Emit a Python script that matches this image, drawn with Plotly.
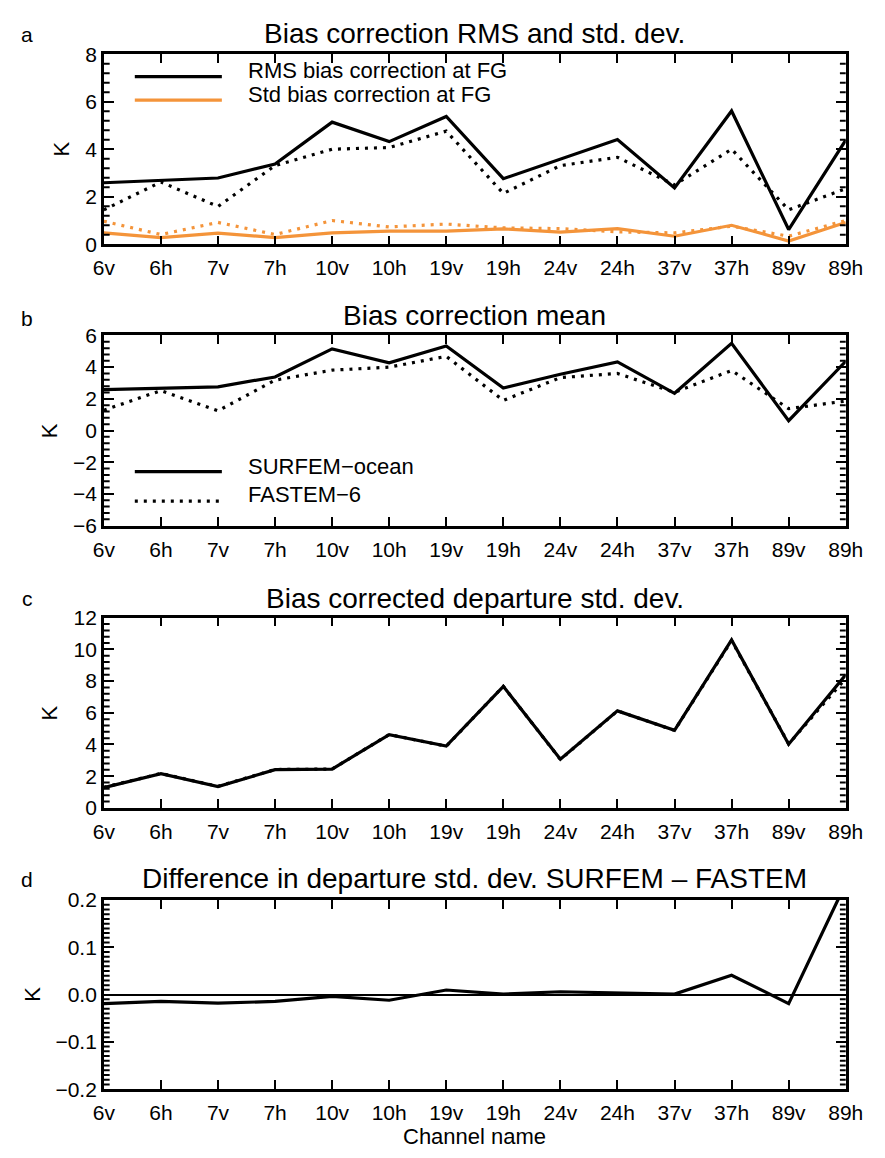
import plotly.graph_objects as go

# ---------------- data ----------------
channels = ["6v", "6h", "7v", "7h", "10v", "10h", "19v", "19h",
            "24v", "24h", "37v", "37h", "89v", "89h"]

# panel a: RMS and std of bias correction at FG
rms_surfem = [2.59, 2.69, 2.79, 3.38, 5.14, 4.32, 5.38, 2.76, 3.59, 4.41, 2.37, 5.61, 0.62, 4.38]
rms_fastem = [1.45, 2.62, 1.59, 3.31, 4.00, 4.07, 4.76, 2.14, 3.31, 3.66, 2.50, 4.00, 1.45, 2.34]
std_surfem = [0.48, 0.28, 0.47, 0.28, 0.48, 0.55, 0.55, 0.65, 0.51, 0.66, 0.34, 0.80, 0.14, 0.92]
std_fastem = [0.97, 0.41, 0.92, 0.41, 1.00, 0.73, 0.85, 0.69, 0.66, 0.52, 0.48, 0.76, 0.34, 1.00]

# panel b: bias correction mean
mean_surfem = [2.58, 2.68, 2.76, 3.38, 5.15, 4.27, 5.34, 2.68, 3.55, 4.33, 2.35, 5.50, 0.62, 4.37]
mean_fastem = [1.28, 2.52, 1.24, 3.18, 3.81, 4.00, 4.68, 1.90, 3.34, 3.60, 2.41, 3.79, 1.38, 1.86]

# panel c: bias corrected departure std. dev.
dep_surfem = [1.28, 2.16, 1.34, 2.41, 2.45, 4.62, 3.90, 7.67, 3.07, 6.12, 4.89, 10.60, 4.02, 8.40]
dep_fastem = [1.30, 2.17, 1.36, 2.42, 2.45, 4.63, 3.89, 7.67, 3.06, 6.12, 4.89, 10.56, 4.04, 8.17]

# panel d: difference SURFEM - FASTEM
dep_diff = [-0.019, -0.0145, -0.018, -0.0145, -0.004, -0.012, 0.0097, 0.001,
            0.006, 0.004, 0.001, 0.041, -0.019, 0.235]

titles = ["Bias correction RMS and std. dev.",
          "Bias correction mean",
          "Bias corrected departure std. dev.",
          "Difference in departure std. dev. SURFEM \u2013 FASTEM"]
letters = ["a", "b", "c", "d"]

# ---------------- layout helpers ----------------
W, H = 885, 1158
FONT = "Liberation Sans, Arial, Helvetica, sans-serif"
ORANGE = "#F4943A"
DOT = "3px,6px"


def fx(x):
    return x / W


def fy(y):
    return 1 - y / H


XL, XR = 96, 863
boxes = [(43, 237), (330, 524), (618, 812), (906, 1099)]

fig = go.Figure()


def add(i, y, color, dash, width=3.2):
    ax = "" if i == 0 else str(i + 1)
    fig.add_trace(go.Scatter(x=channels, y=y, mode="lines",
                             line=dict(color=color, width=width, dash=dash),
                             xaxis="x" + ax, yaxis="y" + ax, showlegend=False,
                             hoverinfo="skip"))


add(0, rms_fastem, "black", DOT)
add(0, rms_surfem, "black", "solid")
add(0, std_fastem, ORANGE, DOT)
add(0, std_surfem, ORANGE, "solid")
add(1, mean_fastem, "black", DOT)
add(1, mean_surfem, "black", "solid")
add(2, dep_fastem, "black", DOT)
add(2, dep_surfem, "black", "solid")
add(3, dep_diff, "black", "solid")

# axis specs: (low, high, major step, minor subdivisions)
yspecs = [
    dict(lo=0, hi=8, dtick=2, nsub=5, fmt=None),
    dict(lo=-6, hi=6, dtick=2, nsub=5, fmt=None),
    dict(lo=0, hi=12, dtick=2, nsub=5, fmt=None),
    dict(lo=-0.2, hi=0.2, dtick=0.1, nsub=10, fmt=".1f"),
]

layout = dict(width=W, height=H, margin=dict(l=0, r=0, t=0, b=0),
              plot_bgcolor="white", paper_bgcolor="white",
              font=dict(family=FONT, color="black", size=21),
              showlegend=False)

TF = dict(size=21, family=FONT, color="black")
shapes = []
MINLEN = 6 / (XR - XL)
for i, (top, bot) in enumerate(boxes):
    ax = "" if i == 0 else str(i + 1)
    spec = yspecs[i]
    layout["xaxis" + ax] = dict(
        domain=[fx(XL), fx(XR)], anchor="y" + ax,
        type="category", categoryorder="array", categoryarray=channels,
        range=[0, len(channels) - 1],
        showline=True, linecolor="black", linewidth=2.5, mirror="ticks",
        ticks="inside", ticklen=9, tickwidth=2, tickcolor="black",
        showgrid=False, zeroline=False, ticklabelstandoff=3,
        tickfont=TF)
    ydict = dict(
        domain=[fy(bot), fy(top)], anchor="x" + ax,
        range=[spec["lo"], spec["hi"]], tickmode="linear", dtick=spec["dtick"], tick0=0,
        showline=True, linecolor="black", linewidth=2.5, mirror="ticks",
        ticks="inside", ticklen=10, tickwidth=2, tickcolor="black",
        showgrid=False, zeroline=(i == 3), zerolinecolor="black", zerolinewidth=2,
        tickfont=TF)
    if spec["fmt"]:
        ydict["tickformat"] = spec["fmt"]
    layout["yaxis" + ax] = ydict

    # minor ticks on both vertical sides
    step = spec["dtick"] / spec["nsub"]
    nsteps = int(round((spec["hi"] - spec["lo"]) / step))
    for k in range(nsteps + 1):
        v = spec["lo"] + k * step
        if abs(v / spec["dtick"] - round(v / spec["dtick"])) < 1e-6:
            continue
        for x0, x1 in ((0, MINLEN), (1 - MINLEN, 1)):
            shapes.append(dict(type="line", xref="x" + ax + " domain", yref="y" + ax,
                               x0=x0, x1=x1, y0=v, y1=v, layer="above",
                               line=dict(color="black", width=2)))

fig.update_layout(**layout)

ann = []
cx = fx((XL + XR) / 2)
title_y = [22, 310, 598, 884]
letter_y = [23, 313, 598, 885]
k_x = [52, 40, 40, 22]
for i, (top, bot) in enumerate(boxes):
    ann.append(dict(text=titles[i], x=cx, y=fy(title_y[i]), xref="paper", yref="paper",
                    xanchor="center", yanchor="middle", showarrow=False,
                    font=dict(size=28, family=FONT, color="black")))
    ann.append(dict(text=letters[i], x=fx(17), y=fy(letter_y[i]), xref="paper", yref="paper",
                    xanchor="center", yanchor="middle", showarrow=False,
                    font=dict(size=21, family=FONT, color="black")))
    ann.append(dict(text="K", x=fx(k_x[i]), y=fy((top + bot) / 2), xref="paper", yref="paper",
                    xanchor="center", yanchor="middle", showarrow=False, textangle=-90,
                    font=dict(size=22, family=FONT, color="black")))

ann.append(dict(text="Channel name", x=cx, y=fy(1147), xref="paper", yref="paper",
                xanchor="center", yanchor="middle", showarrow=False,
                font=dict(size=22, family=FONT, color="black")))

# legends (manual, to match line-sample length)
legend_items = [
    ("RMS bias correction at FG", 66, 60, "black", "solid"),
    ("Std bias correction at FG", 90, 84, ORANGE, "solid"),
    ("SURFEM\u2212ocean", 469, 464, "black", "solid"),
    ("FASTEM\u22126", 499, 492, "black", DOT),
]
for text, ly, ty, col, dash in legend_items:
    shapes.append(dict(type="line", xref="paper", yref="paper",
                       x0=fx(128), x1=fx(218), y0=fy(ly), y1=fy(ly),
                       line=dict(color=col, width=3.2, dash=dash)))
    ann.append(dict(text=text, x=fx(243), y=fy(ty), xref="paper", yref="paper",
                    xanchor="left", yanchor="middle", showarrow=False,
                    font=dict(size=22, family=FONT, color="black")))

fig.update_layout(annotations=ann, shapes=shapes)
fig.write_html("out.html")
